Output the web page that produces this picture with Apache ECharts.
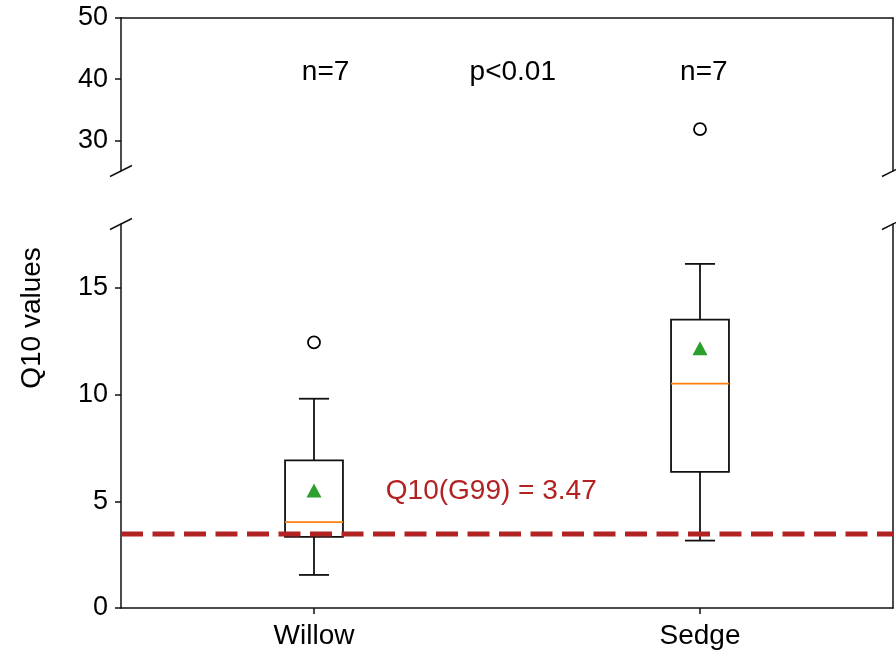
<!DOCTYPE html>
<html>
<head>
<meta charset="utf-8">
<script src="https://cdn.jsdelivr.net/npm/echarts@6/dist/echarts.min.js"></script>
<style>
  html, body { margin: 0; padding: 0; background: #fff; }
  #chart { width: 896px; height: 650px; }
</style>
</head>
<body>
<div id="chart"></div>
<script>
// Groups on the x axis (positions 1, 2)
const categories = ['Willow', 'Sedge'];
// Box statistics per group: [lower whisker, Q1, median, Q3, upper whisker]
const willowStats = [1.55, 3.33, 4.03, 6.92, 9.81];
const sedgeStats = [3.16, 6.38, 10.52, 13.52, 16.13];
// Group means (triangles)
const means = [5.51, 12.17];
// Outliers: [group position, value]
const outliers = [[1, 12.45], [2, 31.83]];
// Reference Q10 from G99
const g99 = 3.47;
// Sample-size and test annotations
const annoTexts = ['n=7', 'p<0.01', 'n=7'];
const annoX = [1.03, 1.515, 2.01];
const annoY = 41.2;
// Tick values for the broken y axis
const upperTicks = [30, 40, 50];
const lowerTicks = [0, 5, 10, 15];

const FONT = '"Liberation Sans", Arial, Helvetica, sans-serif';
const INK = '#111';
const BOX_W = 0.15;
const CAP_W = 0.078;
const LW = 1.8;

const G0 = { left: 121, right: 3, top: 18, height: 153 };
const G1 = { left: 121, right: 3, top: 224, height: 384 };

const chart = echarts.init(document.getElementById('chart'), null, { renderer: 'canvas' });

function lineEl(p1, p2, color, width) {
  return {
    type: 'line',
    shape: { x1: p1[0], y1: p1[1], x2: p2[0], y2: p2[1] },
    style: { stroke: color, lineWidth: width }
  };
}

function renderBox(params, api) {
  const x = api.value(0);
  const lo = api.value(1), q1 = api.value(2), med = api.value(3), q3 = api.value(4), hi = api.value(5);
  const half = api.size([BOX_W, 0])[0] / 2;
  const cap = api.size([CAP_W, 0])[0] / 2;
  const pLo = api.coord([x, lo]);
  const pQ1 = api.coord([x, q1]);
  const pMed = api.coord([x, med]);
  const pQ3 = api.coord([x, q3]);
  const pHi = api.coord([x, hi]);
  const cx = pLo[0];
  return {
    type: 'group',
    children: [
      {
        type: 'rect',
        shape: { x: cx - half, y: pQ3[1], width: half * 2, height: pQ1[1] - pQ3[1] },
        style: { fill: 'none', stroke: INK, lineWidth: LW }
      },
      lineEl([cx, pQ1[1]], [cx, pLo[1]], INK, LW),
      lineEl([cx, pQ3[1]], [cx, pHi[1]], INK, LW),
      lineEl([cx - cap, pLo[1]], [cx + cap, pLo[1]], INK, LW),
      lineEl([cx - cap, pHi[1]], [cx + cap, pHi[1]], INK, LW),
      lineEl([cx - half, pMed[1]], [cx + half, pMed[1]], '#ff7f0e', 1.8)
    ]
  };
}

function renderText(params, api) {
  const p = api.coord([api.value(0), api.value(1)]);
  const d = params.context.items[params.dataIndex];
  return {
    type: 'text',
    x: p[0], y: p[1],
    style: {
      text: d.text, fill: d.color, font: '28px ' + FONT,
      align: d.align, verticalAlign: 'middle'
    }
  };
}

const boxData = [willowStats, sedgeStats].map((s, i) => [i + 1].concat(s));
const meanData = means.map((m, i) => [i + 1, m]);
const upperOutliers = outliers.filter(o => o[1] >= 25);
const lowerOutliers = outliers.filter(o => o[1] < 25);
const annoData = annoTexts.map((t, i) => [annoX[i], annoY]);
const annoItems = annoTexts.map(t => ({ text: t, color: '#000', align: 'center' }));
const g99Items = [{ text: 'Q10(G99) = ' + g99.toFixed(2), color: '#b22222', align: 'left' }];

function valueX(gridIndex, showLabels, position) {
  return {
    type: 'value', gridIndex, min: 0.5, max: 2.5, position,
    splitLine: { show: false },
    axisLine: { show: true, onZero: false, lineStyle: { color: INK, width: 1.5 } },
    axisTick: { show: showLabels, customValues: [1, 2], length: 6, lineStyle: { color: INK, width: 1.5 } },
    axisLabel: {
      show: showLabels, customValues: [1, 2], margin: 14,
      formatter: v => categories[Math.round(v) - 1],
      color: '#000', fontSize: 28, fontFamily: FONT
    }
  };
}

function valueY(gridIndex, min, max, ticks, position) {
  const left = position === 'left';
  return {
    type: 'value', gridIndex, min, max, position,
    splitLine: { show: false },
    axisLine: { show: true, onZero: false, lineStyle: { color: INK, width: 1.5 } },
    axisTick: { show: left, customValues: ticks, length: 6, lineStyle: { color: INK, width: 1.5 } },
    axisLabel: {
      show: left, customValues: ticks, margin: 13,
      color: '#000', fontSize: 27, fontFamily: FONT
    }
  };
}

// Diagonal marks where the y axis is broken
function breakMark(x, y) {
  return {
    type: 'line', silent: true,
    shape: { x1: x - 11, y1: y + 5.5, x2: x + 11, y2: y - 5.5 },
    style: { stroke: INK, lineWidth: 1.5 }
  };
}
const xL = G0.left, xR = 896 - G0.right;
const yBreakTop = G0.top + G0.height, yBreakBottom = G1.top;

const outlierStyle = { color: 'none', borderColor: '#000', borderWidth: 1.8, opacity: 1 };

chart.setOption({
  animation: false,
  backgroundColor: '#fff',
  grid: [
    { left: G0.left, right: G0.right, top: G0.top, height: G0.height },
    { left: G1.left, right: G1.right, top: G1.top, height: G1.height }
  ],
  xAxis: [valueX(0, false, 'top'), valueX(1, true, 'bottom')],
  yAxis: [
    valueY(0, 25, 50, upperTicks, 'left'),
    valueY(0, 25, 50, upperTicks, 'right'),
    valueY(1, 0, 18, lowerTicks, 'left'),
    valueY(1, 0, 18, lowerTicks, 'right')
  ],
  graphic: [
    breakMark(xL, yBreakTop), breakMark(xR, yBreakTop),
    breakMark(xL, yBreakBottom), breakMark(xR, yBreakBottom),
    {
      type: 'text', x: 32, y: 318, rotation: Math.PI / 2,
      style: { text: 'Q10 values', font: '28px ' + FONT, fill: '#000', align: 'center', verticalAlign: 'middle' }
    }
  ],
  series: [
    {
      type: 'custom', xAxisIndex: 1, yAxisIndex: 2, renderItem: renderBox,
      data: boxData, clip: false, z: 2
    },
    {
      type: 'line', xAxisIndex: 1, yAxisIndex: 2, data: [[0.5, g99], [2.5, g99]],
      symbol: 'none', z: 5,
      lineStyle: { color: '#b22222', width: 5, type: [22, 9.5] }
    },
    {
      type: 'scatter', xAxisIndex: 1, yAxisIndex: 2, data: meanData,
      symbol: 'triangle', symbolSize: [15, 14], z: 6,
      itemStyle: { color: '#2ca02c', opacity: 1 }
    },
    {
      type: 'scatter', xAxisIndex: 1, yAxisIndex: 2, data: lowerOutliers,
      symbol: 'circle', symbolSize: 12, z: 6, itemStyle: outlierStyle
    },
    {
      type: 'scatter', xAxisIndex: 0, yAxisIndex: 0, data: upperOutliers,
      symbol: 'circle', symbolSize: 12, z: 6, itemStyle: outlierStyle
    },
    {
      type: 'custom', xAxisIndex: 0, yAxisIndex: 0,
      renderItem: (params, api) => { params.context.items = annoItems; return renderText(params, api); },
      data: annoData, clip: false, z: 7
    },
    {
      type: 'custom', xAxisIndex: 1, yAxisIndex: 2,
      renderItem: (params, api) => { params.context.items = g99Items; return renderText(params, api); },
      data: [[1.186, 5.45]], clip: false, z: 7
    }
  ]
});
</script>
</body>
</html>
